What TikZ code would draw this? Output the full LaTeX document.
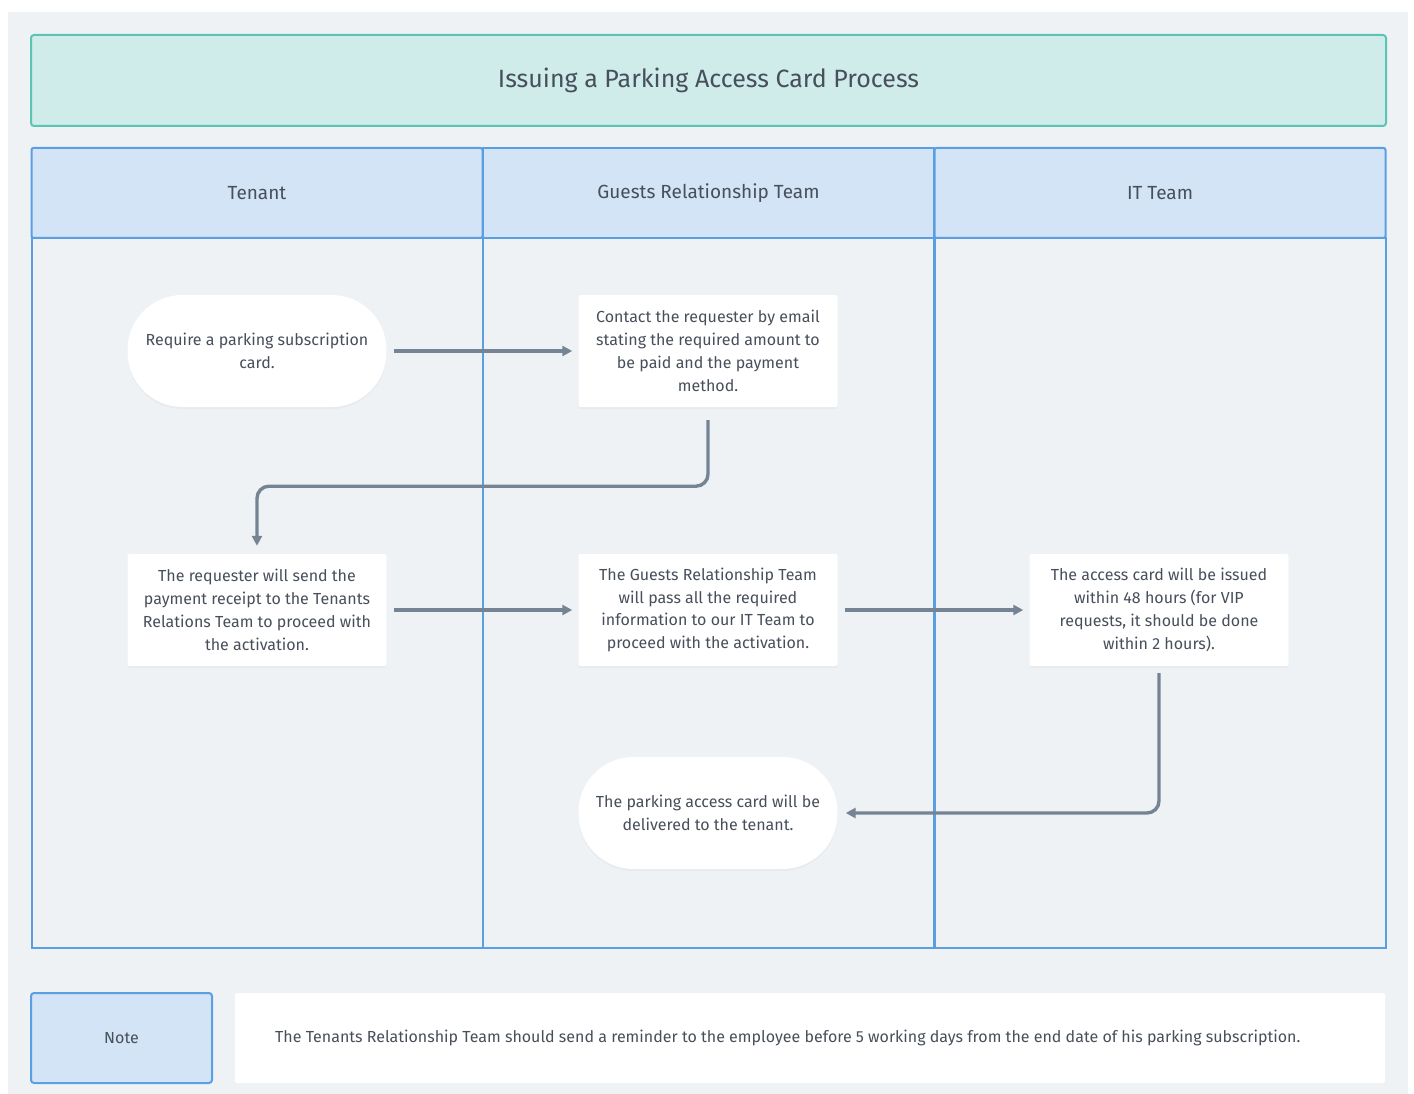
\documentclass[tikz,border=0pt]{standalone}
\usepackage{fontspec}
\setmainfont{Fira Sans}
\usetikzlibrary{arrows.meta,shadows}
\definecolor{pagebg}{HTML}{EFF2F5}
\definecolor{titlefill}{HTML}{CFECEB}
\definecolor{titledraw}{HTML}{5CC4B4}
\definecolor{lanefill}{HTML}{D2E4F5}
\definecolor{lanedraw}{HTML}{5B9FE3}
\definecolor{arrowcol}{HTML}{748494}
\definecolor{txt}{HTML}{474F5B}
\tikzset{
  lanehead/.style={draw=lanedraw, fill=lanefill, line width=2pt, minimum width=451pt, minimum height=90pt, text=txt, font=\fontsize{19}{22}\selectfont},
  lanebody/.style={draw=lanedraw, fill=pagebg, line width=2pt, minimum width=451pt, minimum height=710pt},
  procbox/.style={fill=white, minimum width=259pt, minimum height=112pt, align=center, text=txt, font=\fontsize{16}{22.8}\selectfont, rounded corners=2pt, drop shadow={opacity=0.06, shadow xshift=0pt, shadow yshift=-2pt}},
  stadium/.style={procbox, rounded corners=55pt},
  arr/.style={draw=arrowcol, line width=3.4pt, -{Triangle[length=10pt,width=10pt]}},
}
\begin{document}
\begin{tikzpicture}[x=1pt,y=-1pt]
\useasboundingbox (0,0) rectangle (1414,1094);
\fill[white] (0,0) rectangle (1414,1094);
\fill[pagebg] (8,12) rectangle (1408,1094);
% title
\node[draw=titledraw, fill=titlefill, line width=2pt, rounded corners=3pt, minimum width=1355pt, minimum height=91pt, text=txt, font=\fontsize{25}{28}\selectfont] (title) at (708.5,80.5) {Issuing a Parking Access Card Process};
% lanes
\node[lanebody] (b1) at (257,593) {};
\node[lanebody] (b2) at (708.5,593) {};
\node[lanebody] (b3) at (1160,593) {};
\node[lanehead, rounded corners=2pt] (h1) at (257,193) {Tenant};
\node[lanehead] (h2) at (708.5,193) {Guests Relationship Team};
\node[lanehead, rounded corners=2pt] (h3) at (1160,193) {IT Team};
% nodes
\node[stadium] (n1) at (257,351) {Require a parking subscription\\card.};
\node[procbox] (n2) at (708,351) {Contact the requester by email\\stating the required amount to\\be paid and the payment\\method.};
\node[procbox] (n3) at (257,610) {The requester will send the\\payment receipt to the Tenants\\Relations Team to proceed with\\the activation.};
\node[procbox] (n4) at (708,610) {The Guests Relationship Team\\will pass all the required\\information to our IT Team to\\proceed with the activation.};
\node[procbox] (n5) at (1159,610) {The access card will be issued\\within 48 hours (for VIP\\requests, it should be done\\within 2 hours).};
\node[stadium] (n6) at (708,813) {The parking access card will be\\delivered to the tenant.};
% connectors
\draw[arr] ([xshift=7pt]n1.east) -- ([xshift=-6pt]n2.west);
\draw[arr, rounded corners=12pt] ([yshift=-13pt]n2.south) -- ++(0,66) -| ([yshift=8pt]n3.north);
\draw[arr] ([xshift=7pt]n3.east) -- ([xshift=-6pt]n4.west);
\draw[arr] ([xshift=7pt]n4.east) -- ([xshift=-6pt]n5.west);
\draw[arr, rounded corners=12pt] ([yshift=-7pt]n5.south) |- ([xshift=8pt]n6.east);
% note
\node[draw=lanedraw, fill=lanefill, line width=2pt, rounded corners=3pt, minimum width=181pt, minimum height=90pt, text=txt, font=\fontsize{16}{18}\selectfont] (note) at (121.5,1038) {Note};
\node[fill=white, rounded corners=2pt, minimum width=1150pt, minimum height=90pt] (notebox) at (810,1038) {};
\node[anchor=west, inner sep=0pt, text=txt, font=\fontsize{16}{18}\selectfont] (notetext) at (275,1038) {The Tenants Relationship Team should send a reminder to the employee before 5 working days from the end date of his parking subscription.};
\end{tikzpicture}
\end{document}
